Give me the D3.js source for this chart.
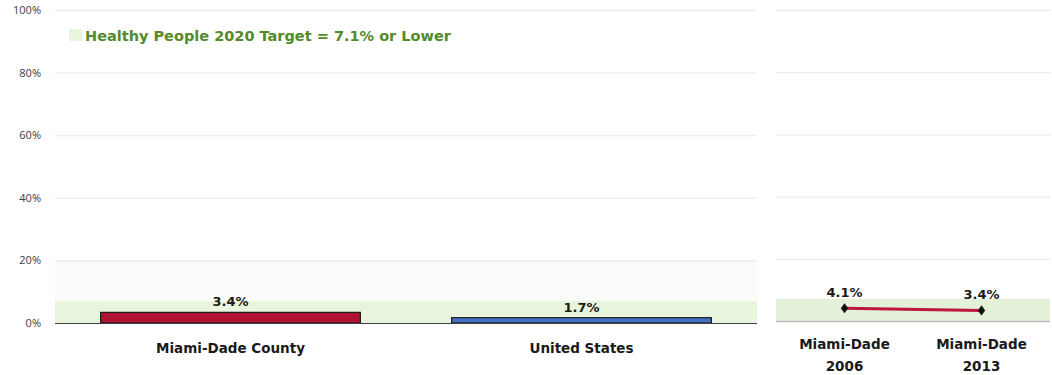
<!DOCTYPE html>
<html>
<head>
<meta charset="utf-8">
<script src="https://cdn.jsdelivr.net/npm/d3@7"></script>
<style>
  html, body { margin: 0; padding: 0; background: #fff; }
  svg { display: block; font-family: "Open Sans", "Noto Sans", sans-serif; }
  .bold { font-family: "DejaVu Sans", "Open Sans", sans-serif; font-weight: 700; }
</style>
</head>
<body>
<svg id="chart" width="1052" height="375"></svg>
<script>
// Comparison bars
const barCategories = ["Miami-Dade County", "United States"];
const barValues = [3.4, 1.7];
const barColors = ["#b01232", "#4472c4"];

// Trend points
const trendCategories = [["Miami-Dade", "2006"], ["Miami-Dade", "2013"]];
const trendValues = [4.1, 3.4];

// Axis ticks and target
const yTicks = [0, 20, 40, 60, 80, 100];
const targetValue = 7.1;
const targetLabel = "Healthy People 2020 Target = 7.1% or Lower";

const svg = d3.select("#chart");
const fmt = v => v.toFixed(1) + "%";

// ---- Left panel: bars ----
const L = { x0: 55, x1: 757, y0: 10, y1: 323 };
const xL = d3.scaleBand().domain(barCategories).range([L.x0, L.x1]).paddingInner(0.26).paddingOuter(0.13);
const yL = d3.scaleLinear().domain([0, 100]).range([L.y1, L.y0]);

const gL = svg.append("g");
// faint plot shading in the low range
gL.append("rect")
  .attr("x", L.x0).attr("width", L.x1 - L.x0)
  .attr("y", yL(20)).attr("height", yL(targetValue) - yL(20))
  .attr("fill", "#fbfbfb");
// gridlines
gL.selectAll("line.grid").data(yTicks.filter(d => d > 0)).join("line")
  .attr("x1", L.x0).attr("x2", L.x1)
  .attr("y1", d => yL(d) + 0.5).attr("y2", d => yL(d) + 0.5)
  .attr("stroke", "#ececec").attr("stroke-width", 1.3);
// target band
gL.append("rect")
  .attr("x", L.x0).attr("width", L.x1 - L.x0)
  .attr("y", yL(targetValue)).attr("height", yL(0) - yL(targetValue))
  .attr("fill", "#e9f4de");
// y axis labels
const axisL = d3.axisLeft(yL).tickValues(yTicks).tickFormat(d => d + "%").tickSize(0).tickPadding(14);
const ax = svg.append("g").attr("transform", `translate(${L.x0},0)`).call(axisL);
ax.select(".domain").remove();
ax.selectAll("text").attr("font-size", 11).attr("fill", "#404040")
  .attr("font-family", "'Open Sans', sans-serif");

// bars
gL.selectAll("rect.bar").data(barValues).join("rect")
  .attr("class", "bar")
  .attr("x", (d, i) => xL(barCategories[i]))
  .attr("width", xL.bandwidth())
  .attr("y", d => yL(d))
  .attr("height", d => yL(0) - yL(d))
  .attr("fill", (d, i) => barColors[i])
  .attr("stroke", "#1a1a1a").attr("stroke-width", 1.2);
// baseline
gL.append("line").attr("x1", L.x0).attr("x2", L.x1)
  .attr("y1", yL(0) + 0.5).attr("y2", yL(0) + 0.5)
  .attr("stroke", "#404040").attr("stroke-width", 1.2);
// value labels
gL.selectAll("text.val").data(barValues).join("text")
  .attr("class", "bold")
  .attr("x", (d, i) => xL(barCategories[i]) + xL.bandwidth() / 2)
  .attr("y", d => yL(d) - 6)
  .attr("text-anchor", "middle").attr("font-size", 13)
  .attr("fill", "#1a1a1a").text(fmt);
// category labels
gL.selectAll("text.cat").data(barCategories).join("text")
  .attr("class", "bold")
  .attr("x", d => xL(d) + xL.bandwidth() / 2)
  .attr("y", 353)
  .attr("text-anchor", "middle").attr("font-size", 13.5)
  .attr("fill", "#1a1a1a").text(d => d);

// legend for target
gL.append("rect").attr("x", 69).attr("y", 29).attr("width", 13).attr("height", 12).attr("fill", "#e9f4de");
gL.append("text").attr("class", "bold").attr("x", 85).attr("y", 41)
  .attr("font-size", 14.5).attr("fill", "#538a2c")
  .text(targetLabel);

// ---- Right panel: trend ----
const R = { x0: 776, x1: 1050, y0: 10, y1: 321 };
const xR = d3.scalePoint().domain(trendCategories.map(d => d.join(" "))).range([R.x0, R.x1]).padding(0.5);
const yR = d3.scaleLinear().domain([0, 100]).range([R.y1, R.y0]);
const gR = svg.append("g");
gR.selectAll("line.grid").data(yTicks.filter(d => d > 0)).join("line")
  .attr("x1", R.x0).attr("x2", R.x1)
  .attr("y1", d => yR(d) + 0.5).attr("y2", d => yR(d) + 0.5)
  .attr("stroke", "#ececec").attr("stroke-width", 1.3);
gR.append("rect")
  .attr("x", R.x0).attr("width", R.x1 - R.x0)
  .attr("y", yR(targetValue)).attr("height", yR(0) - yR(targetValue))
  .attr("fill", "#e4f0d8");
gR.append("line").attr("x1", R.x0).attr("x2", R.x1)
  .attr("y1", yR(0) + 0.5).attr("y2", yR(0) + 0.5)
  .attr("stroke", "#bdbdbd").attr("stroke-width", 1.5);

const pts = trendValues.map((v, i) => [xR(trendCategories[i].join(" ")), yR(v)]);
gR.append("path").attr("d", d3.line()(pts))
  .attr("fill", "none").attr("stroke", "#c0163c").attr("stroke-width", 3);
gR.selectAll("path.mk").data(pts).join("path")
  .attr("transform", d => `translate(${d[0]},${d[1]}) scale(1.25,1)`)
  .attr("d", d3.symbol(d3.symbolDiamond, 30)())
  .attr("fill", "#111");
gR.selectAll("text.val").data(trendValues).join("text")
  .attr("class", "bold")
  .attr("x", (d, i) => pts[i][0])
  .attr("y", (d, i) => pts[i][1] - 11)
  .attr("text-anchor", "middle").attr("font-size", 13)
  .attr("fill", "#1a1a1a").text(fmt);
const catR = gR.selectAll("text.cat").data(trendCategories).join("text")
  .attr("class", "bold")
  .attr("text-anchor", "middle").attr("font-size", 13.5)
  .attr("fill", "#1a1a1a");
catR.each(function(d) {
  const t = d3.select(this);
  const cx = xR(d.join(" "));
  d.forEach((line, j) => {
    t.append("tspan").attr("x", cx).attr("y", 349 + j * 22).text(line);
  });
});
</script>
</body>
</html>
